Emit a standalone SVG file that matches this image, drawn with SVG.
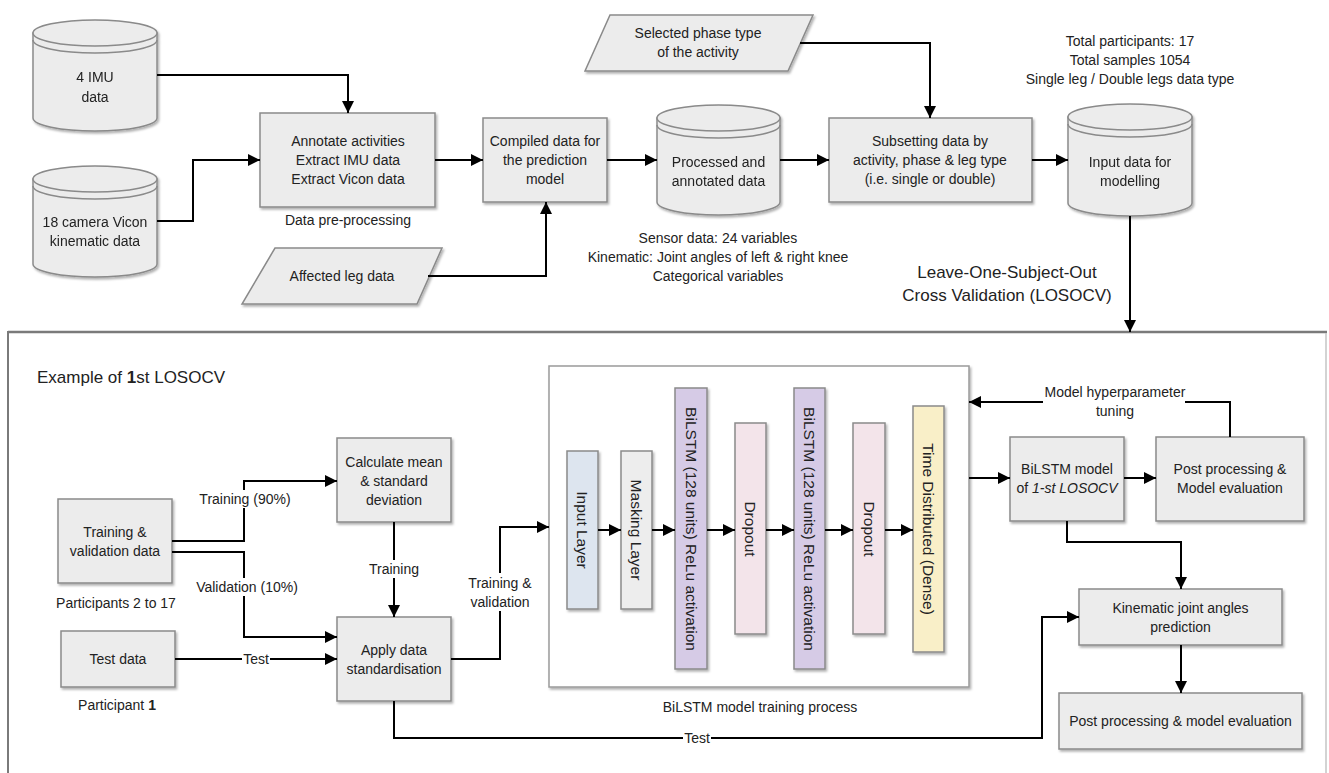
<svg xmlns="http://www.w3.org/2000/svg" width="1329" height="773" viewBox="0 0 1329 773">
<defs>
<filter id="sh" x="-10%" y="-10%" width="130%" height="130%">
<feDropShadow dx="1.5" dy="2" stdDeviation="1.2" flood-color="#000" flood-opacity="0.3"/>
</filter>
<marker id="ah" markerUnits="userSpaceOnUse" markerWidth="12" markerHeight="12" refX="12" refY="6" orient="auto">
<path d="M0,0 L12,6 L0,12 Z" fill="#000"/>
</marker>
</defs>
<style>
text{font-family:"Liberation Sans",Arial,sans-serif;font-size:14px;fill:#222;text-anchor:middle}
.box{fill:#ececec;stroke:#8a8a8a;stroke-width:1.5;filter:url(#sh)}
.cyl{fill:#ececec;stroke:#8a8a8a;stroke-width:1.5}
.cylc{fill:none;stroke:#8a8a8a;stroke-width:1.5}
.ln{fill:none;stroke:#000;stroke-width:2}
.arr{fill:none;stroke:#000;stroke-width:2;marker-end:url(#ah)}
.lab{fill:#fff;stroke:none}
.big{font-size:17px}
.lay{font-size:15.5px}
.layer{stroke:#8a8a8a;stroke-width:1.5;filter:url(#sh)}
</style>
<rect width="1329" height="773" fill="#fff"/>

<!-- outer LOSOCV frame -->
<g id="losocv-frame">
<line x1="8" y1="332" x2="1327" y2="332" stroke="#7a7a7a" stroke-width="2.5"/>
<line x1="8" y1="331" x2="8" y2="773" stroke="#7a7a7a" stroke-width="2"/>
<line x1="1326" y1="333" x2="1326" y2="773" stroke="#c4c4c4" stroke-width="1.5"/>
</g>

<!-- top section nodes -->
<g id="imu" filter="url(#sh)">
<path class="cyl" d="M33,33 L33,118 A62,13 0 0 0 157,118 L157,33 Z"/>
<ellipse class="cyl" cx="95" cy="33" rx="62" ry="13"/>
<path class="cylc" d="M33,40 A62,13 0 0 0 157,40"/>
<text x="95" y="82">4 IMU</text>
<text x="95" y="102">data</text>
</g>
<g id="vicon" filter="url(#sh)">
<path class="cyl" d="M33,179 L33,264 A62,13 0 0 0 157,264 L157,179 Z"/>
<ellipse class="cyl" cx="95" cy="179" rx="62" ry="13"/>
<path class="cylc" d="M33,186 A62,13 0 0 0 157,186"/>
<text x="95" y="227">18 camera Vicon</text>
<text x="95" y="246">kinematic data</text>
</g>
<g id="annotate">
<rect class="box" x="260" y="113" width="175" height="94"/>
<text x="348" y="146">Annotate activities</text>
<text x="348" y="165">Extract IMU data</text>
<text x="348" y="184">Extract Vicon data</text>
<text x="348" y="225">Data pre-processing</text>
</g>
<g id="affected">
<polygon class="box" points="275,248 442,248 417,304 242,304"/>
<text x="342" y="281">Affected leg data</text>
</g>
<g id="compiled">
<rect class="box" x="483" y="118" width="124" height="84"/>
<text x="545" y="146">Compiled data for</text>
<text x="545" y="165">the prediction</text>
<text x="545" y="184">model</text>
</g>
<g id="processed" filter="url(#sh)">
<path class="cyl" d="M657,118 L657,202 A61.5,13 0 0 0 780,202 L780,118 Z"/>
<ellipse class="cyl" cx="718.5" cy="118" rx="61.5" ry="13"/>
<path class="cylc" d="M657,125 A61.5,13 0 0 0 780,125"/>
<text x="718.5" y="167">Processed and</text>
<text x="718.5" y="186">annotated data</text>
</g>
<g id="processed-note">
<text x="718" y="243">Sensor data: 24 variables</text>
<text x="718" y="262">Kinematic: Joint angles of left &amp; right knee</text>
<text x="718" y="281">Categorical variables</text>
</g>
<g id="selected">
<polygon class="box" points="610,15 813,15 788,71 585,71"/>
<text x="698" y="38">Selected phase type</text>
<text x="698" y="57">of the activity</text>
</g>
<g id="subset">
<rect class="box" x="829" y="118" width="203" height="84"/>
<text x="930" y="146">Subsetting data by</text>
<text x="930" y="165">activity, phase &amp; leg type</text>
<text x="930" y="184">(i.e. single or double)</text>
</g>
<g id="input" filter="url(#sh)">
<path class="cyl" d="M1068,117 L1068,203 A62,13 0 0 0 1192,203 L1192,117 Z"/>
<ellipse class="cyl" cx="1130" cy="117" rx="62" ry="13"/>
<path class="cylc" d="M1068,124 A62,13 0 0 0 1192,124"/>
<text x="1130" y="167">Input data for</text>
<text x="1130" y="186">modelling</text>
</g>
<g id="input-note">
<text x="1130" y="46">Total participants: 17</text>
<text x="1130" y="65">Total samples 1054</text>
<text x="1130" y="84">Single leg / Double legs data type</text>
</g>
<g id="losocv-label">
<text class="big" x="1007" y="278">Leave-One-Subject-Out</text>
<text class="big" x="1007" y="301">Cross Validation (LOSOCV)</text>
</g>

<!-- bottom section nodes -->
<g id="example-title">
<text class="big" x="37" y="383" style="text-anchor:start">Example of <tspan font-weight="bold">1</tspan>st LOSOCV</text>
</g>
<g id="trainval">
<rect class="box" x="58" y="499" width="114" height="84"/>
<text x="115" y="537">Training &amp;</text>
<text x="115" y="556">validation data</text>
<text x="116" y="608">Participants 2 to 17</text>
</g>
<g id="testdata">
<rect class="box" x="61" y="631" width="114" height="56"/>
<text x="118" y="664">Test data</text>
<text x="117" y="710">Participant <tspan font-weight="bold">1</tspan></text>
</g>
<g id="calc">
<rect class="box" x="337" y="438" width="114" height="84"/>
<text x="394" y="467">Calculate mean</text>
<text x="394" y="486">&amp; standard</text>
<text x="394" y="505">deviation</text>
</g>
<g id="apply">
<rect class="box" x="337" y="617" width="114" height="84"/>
<text x="394" y="655">Apply data</text>
<text x="394" y="674">standardisation</text>
</g>

<g id="model-frame">
<rect x="549" y="366" width="420" height="321" fill="#fff" stroke="#9a9a9a" stroke-width="1.5" filter="url(#sh)"/>
<text x="760" y="712">BiLSTM model training process</text>
</g>
<g id="layer-input">
<rect class="layer" x="567" y="451" width="31" height="158" fill="#dde5ef"/>
<text class="lay" transform="translate(582.5,530) rotate(90)" y="5.5">Input Layer</text>
</g>
<g id="layer-masking">
<rect class="layer" x="621" y="451" width="31" height="158" fill="#ededed"/>
<text class="lay" transform="translate(636.5,530) rotate(90)" y="5.5">Masking Layer</text>
</g>
<g id="layer-bilstm1">
<rect class="layer" x="675" y="388" width="32" height="281" fill="#d6cbe6"/>
<text class="lay" transform="translate(691,529) rotate(90)" y="5.5">BiLSTM (128 units) ReLu activation</text>
</g>
<g id="layer-dropout1">
<rect class="layer" x="735" y="423" width="31" height="211" fill="#f3e4ea"/>
<text class="lay" transform="translate(750.5,529) rotate(90)" y="5.5">Dropout</text>
</g>
<g id="layer-bilstm2">
<rect class="layer" x="794" y="388" width="31" height="281" fill="#d6cbe6"/>
<text class="lay" transform="translate(809.5,529) rotate(90)" y="5.5">BiLSTM (128 units) ReLu activation</text>
</g>
<g id="layer-dropout2">
<rect class="layer" x="853" y="423" width="32" height="211" fill="#f3e4ea"/>
<text class="lay" transform="translate(869,529) rotate(90)" y="5.5">Dropout</text>
</g>
<g id="layer-timedist">
<rect class="layer" x="913" y="406" width="31" height="246" fill="#f9efc8"/>
<text class="lay" transform="translate(928.5,529) rotate(90)" y="5.5">Time Distributed (Dense)</text>
</g>

<g id="bilstm-model">
<rect class="box" x="1010" y="437" width="114" height="84"/>
<text x="1067" y="474">BiLSTM model</text>
<text x="1067" y="493">of <tspan font-style="italic">1-st LOSOCV</tspan></text>
</g>
<g id="post1">
<rect class="box" x="1156" y="437" width="148" height="84"/>
<text x="1230" y="474">Post processing &amp;</text>
<text x="1230" y="493">Model evaluation</text>
</g>
<g id="kinematic">
<rect class="box" x="1079" y="589" width="203" height="56"/>
<text x="1180.5" y="613">Kinematic joint angles</text>
<text x="1180.5" y="632">prediction</text>
</g>
<g id="post2">
<rect class="box" x="1059" y="693" width="243" height="56"/>
<text x="1180.5" y="726">Post processing &amp; model evaluation</text>
</g>

<!-- connectors -->
<g id="connectors">
<path class="arr" d="M157,75 H348 V113"/>
<path class="arr" d="M157,221 H193 V160 H260"/>
<path class="arr" d="M435,160 H483"/>
<path class="arr" d="M428,276 H546 V202"/>
<path class="arr" d="M607,160 H657"/>
<path class="arr" d="M780,160 H829"/>
<path class="arr" d="M800,43 H930 V118"/>
<path class="arr" d="M1032,160 H1068"/>
<path class="arr" d="M1130,216 V332"/>

<path class="arr" d="M172,541 H244 V481 H337"/>
<path class="arr" d="M172,552 H244 V637 H337"/>
<path class="arr" d="M175,659 H337"/>
<path class="arr" d="M394,522 V617"/>
<path class="arr" d="M451,659 H500 V527 H549"/>
<path class="arr" d="M394,701 V738 H1042 V617 H1079"/>

<path class="arr" d="M598,530 H621"/>
<path class="arr" d="M652,530 H675"/>
<path class="arr" d="M707,530 H735"/>
<path class="arr" d="M766,530 H794"/>
<path class="arr" d="M825,530 H853"/>
<path class="arr" d="M885,530 H913"/>

<path class="arr" d="M969,478 H1010"/>
<path class="arr" d="M1124,478 H1156"/>
<path class="arr" d="M1230,437 V402 H969"/>
<path class="arr" d="M1067,521 V542 H1181 V589"/>
<path class="arr" d="M1181,645 V693"/>

<!-- connector labels -->
<rect class="lab" x="197" y="490" width="96" height="18"/>
<text x="245" y="504">Training (90%)</text>
<rect class="lab" x="194" y="578" width="106" height="18"/>
<text x="247" y="592">Validation (10%)</text>
<rect class="lab" x="242" y="650" width="28" height="18"/>
<text x="256" y="664">Test</text>
<rect class="lab" x="367" y="560" width="54" height="18"/>
<text x="394" y="574">Training</text>
<rect class="lab" x="464" y="573" width="72" height="38"/>
<text x="500" y="588">Training &amp;</text>
<text x="500" y="607">validation</text>
<rect class="lab" x="683" y="729" width="28" height="18"/>
<text x="697" y="743">Test</text>
<rect class="lab" x="1043" y="383" width="142" height="38"/>
<text x="1115" y="397">Model hyperparameter</text>
<text x="1115" y="416">tuning</text>
</g>
</svg>
